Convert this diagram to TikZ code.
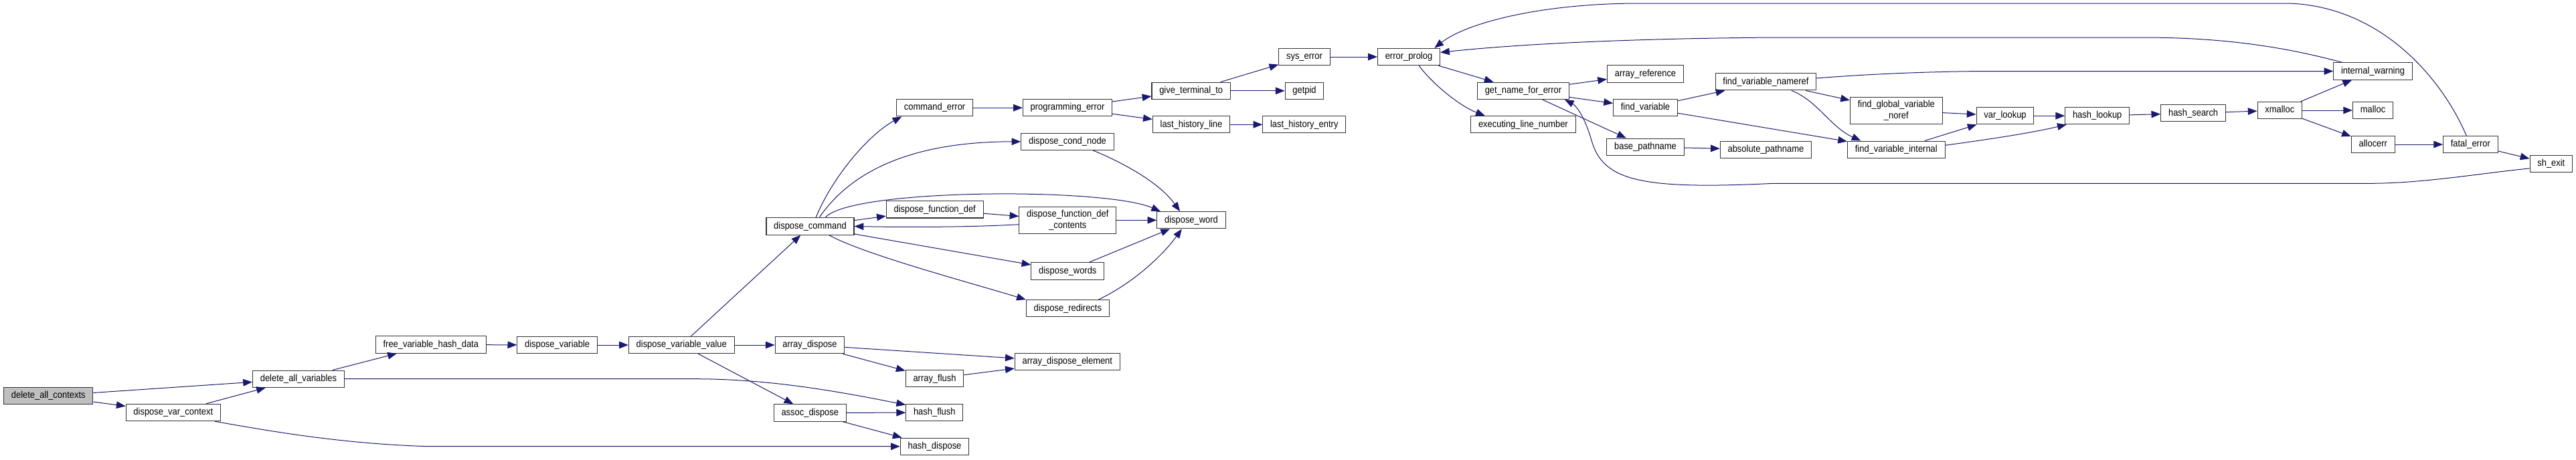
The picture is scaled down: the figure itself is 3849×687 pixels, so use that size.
\documentclass[tikz,border=0pt]{standalone}
\usepackage{fontspec}
\setmainfont{Liberation Sans}[FakeStretch=0.9]
\usetikzlibrary{arrows.meta}
\definecolor{midnightblue}{RGB}{25,25,112}

\begin{document}
\begin{tikzpicture}[x=0.8pt, y=-0.8pt, >={Triangle[length=11pt,width=8.5pt]},
	every node/.style={font=\fontsize{11.5}{13}\selectfont},
	fn/.style={draw=black!80, line width=0.9pt, fill=white, inner xsep=9pt, inner ysep=0pt, minimum height=20.2pt, text height=8.4pt, text depth=2.4pt},
	fntwo/.style={fn, align=center, minimum height=32pt, text height=, text depth=},
	root/.style={fn, fill=black!25},
	call/.style={->, draw=midnightblue, line width=0.8pt}]
	\useasboundingbox (0,0) rectangle (3849,687);
	\node[root] (dac) at (72.3,592) {delete\_all\_contexts};
	\node[fn] (dvc) at (258.8,617) {dispose\_var\_context};
	\node[fn] (dav) at (446,566.7) {delete\_all\_variables};
	\node[fn] (fvhd) at (643.8,515.5) {free\_variable\_hash\_data};
	\node[fn] (dv) at (832.6,516) {dispose\_variable};
	\node[fn] (dvv) at (1018.3,516) {dispose\_variable\_value};
	\node[fn] (dc) at (1210.5,338.5) {dispose\_command};
	\node[fn] (ad) at (1210,516) {array\_dispose};
	\node[fn] (asd) at (1210.3,617.5) {assoc\_dispose};
	\node[fn] (ce) at (1396.6,161.2) {command\_error};
	\node[fn] (dfd) at (1396.7,313.4) {dispose\_function\_def};
	\node[fn] (af) at (1396.5,566.3) {array\_flush};
	\node[fn] (hf) at (1396.3,617) {hash\_flush};
	\node[fn] (hd) at (1396.5,667.7) {hash\_dispose};
	\node[fn] (pe) at (1595,161.2) {programming\_error};
	\node[fn] (dcn) at (1595,211.8) {dispose\_cond\_node};
	\node[fntwo] (dfdc) at (1595.3,329.3) {dispose\_function\_def\\\_contents};
	\node[fn] (dws) at (1595.3,405.5) {dispose\_words};
	\node[fn] (dr) at (1595.3,461.3) {dispose\_redirects};
	\node[fn] (ade) at (1594.8,541) {array\_dispose\_element};
	\node[fn] (gtt) at (1779.7,135.8) {give\_terminal\_to};
	\node[fn] (lhl) at (1780,186.3) {last\_history\_line};
	\node[fn] (dw) at (1780,329.3) {dispose\_word};
	\node[fn] (se) at (1949,85) {sys\_error};
	\node[fn] (gp) at (1949,135.8) {getpid};
	\node[fn] (lhe) at (1948.8,186.3) {last\_history\_entry};
	\node[fn] (ep) at (2105,85) {error\_prolog};
	\node[fn] (gnfe) at (2275.9,135.8) {get\_name\_for\_error};
	\node[fn] (eln) at (2275.9,186.3) {executing\_line\_number};
	\node[fn] (ar) at (2458.5,110.5) {array\_reference};
	\node[fn] (fv) at (2458.5,161.2) {find\_variable};
	\node[fn] (bp) at (2458.5,219.7) {base\_pathname};
	\node[fn] (fvn) at (2638.4,122.3) {find\_variable\_nameref};
	\node[fn] (ap) at (2638.4,223.7) {absolute\_pathname};
	\node[fntwo] (fgvn) at (2833.3,165.2) {find\_global\_variable\\\_noref};
	\node[fn] (fvi) at (2833.3,223.7) {find\_variable\_internal};
	\node[fn] (vl) at (2996,173.2) {var\_lookup};
	\node[fn] (hl) at (3133.7,173.2) {hash\_lookup};
	\node[fn] (hs) at (3277.1,169.3) {hash\_search};
	\node[fn] (xm) at (3406.3,165) {xmalloc};
	\node[fn] (iw) at (3545.5,106.5) {internal\_warning};
	\node[fn] (ml) at (3545.5,165) {malloc};
	\node[fn] (ae) at (3545.8,216) {allocerr};
	\node[fn] (fe) at (3691.3,216) {fatal\_error};
	\node[fn] (sx) at (3811.8,245) {sh\_exit};
	\draw[call] (dac) -- (dav);
	\draw[call] (dac) -- (dvc);
	\draw[call] (dvc) -- (dav);
	\draw[call] (dvc.348) .. controls (420,648) and (520,664) .. (640,667.7) -- (hd.west);
	\draw[call] (dav) -- (fvhd);
	\draw[call] (dav.east) -- (1040,566.7) .. controls (1150,567) and (1250,585) .. (hf.165);
	\draw[call] (fvhd) -- (dv);
	\draw[call] (dv) -- (dvv);
	\draw[call] (dvv) -- (dc);
	\draw[call] (dvv) -- (ad);
	\draw[call] (dvv) -- (asd);
	\draw[call] (ad) -- (ade);
	\draw[call] (ad) -- (af);
	\draw[call] (af) -- (ade);
	\draw[call] (asd) -- (hf);
	\draw[call] (asd) -- (hd);
	\draw[call] (dc.57) .. controls (1245,262) and (1300,200) .. (ce.195);
	\draw[call] (dc.44) .. controls (1262,270) and (1340,212) .. (dcn.west);
	\draw[call] (dc.30) .. controls (1270,282) and (1650,280) .. (dw.164);
	\draw[call] (dc) -- (dfd);
	\draw[call] (dfdc.185) .. controls (1450,340) and (1350,340) .. (dc.east);
	\draw[call] (dc) -- (dws);
	\draw[call] (dc.335) .. controls (1290,380) and (1440,420) .. (dr.north west);
	\draw[call] (dfd) -- (dfdc);
	\draw[call] (dfdc) -- (dw);
	\draw[call] (dcn.341) .. controls (1670,240) and (1730,270) .. (dw.142);
	\draw[call] (dws) -- (dw);
	\draw[call] (dr.16) .. controls (1690,425) and (1735,385) .. (dw.223);
	\draw[call] (ce) -- (pe);
	\draw[call] (pe) -- (gtt);
	\draw[call] (pe) -- (lhl);
	\draw[call] (gtt) -- (se);
	\draw[call] (gtt) -- (gp);
	\draw[call] (lhl) -- (lhe);
	\draw[call] (se) -- (ep);
	\draw[call] (ep) -- (gnfe);
	\draw[call] (ep.319) .. controls (2140,125) and (2180,158) .. (eln.167);
	\draw[call] (gnfe) -- (ar);
	\draw[call] (gnfe) -- (fv);
	\draw[call] (gnfe) -- (bp);
	\draw[call] (bp) -- (ap);
	\draw[call] (fv) -- (fvn);
	\draw[call] (fv) -- (fvi);
	\draw[call] (fvn) -- (fgvn);
	\draw[call] (fvn.341) .. controls (2715,150) and (2735,190) .. (fvi.166);
	\draw[call] (fvn.4) .. controls (2800,110) and (2900,106.5) .. (2980,106.5) -- (iw.west);
	\draw[call] (fgvn) -- (vl);
	\draw[call] (fvi) -- (vl);
	\draw[call] (fvi.5) .. controls (2960,210) and (3030,200) .. (hl.196);
	\draw[call] (vl) -- (hl);
	\draw[call] (hl) -- (hs);
	\draw[call] (hs) -- (xm);
	\draw[call] (xm) -- (iw);
	\draw[call] (xm) -- (ml);
	\draw[call] (xm) -- (ae);
	\draw[call] (ae) -- (fe);
	\draw[call] (fe) -- (sx);
	\draw[call] (fe.115) .. controls (3650,120) and (3560,10) .. (3420,5) -- (2450,5) .. controls (2300,5) and (2190,35) .. (ep.19);
	\draw[call] (iw.164) .. controls (3420,72) and (3330,56) .. (3200,56) -- (2650,56) .. controls (2400,58) and (2250,68) .. (ep.8);
	\draw[call] (sx.192) .. controls (3700,260) and (3620,274.3) .. (3540,274.3) -- (2650,274.3) .. controls (2450,284) and (2395,270) .. (2378,210) .. controls (2368,175) and (2355,158) .. (gnfe.348);
\end{tikzpicture}
\end{document}
